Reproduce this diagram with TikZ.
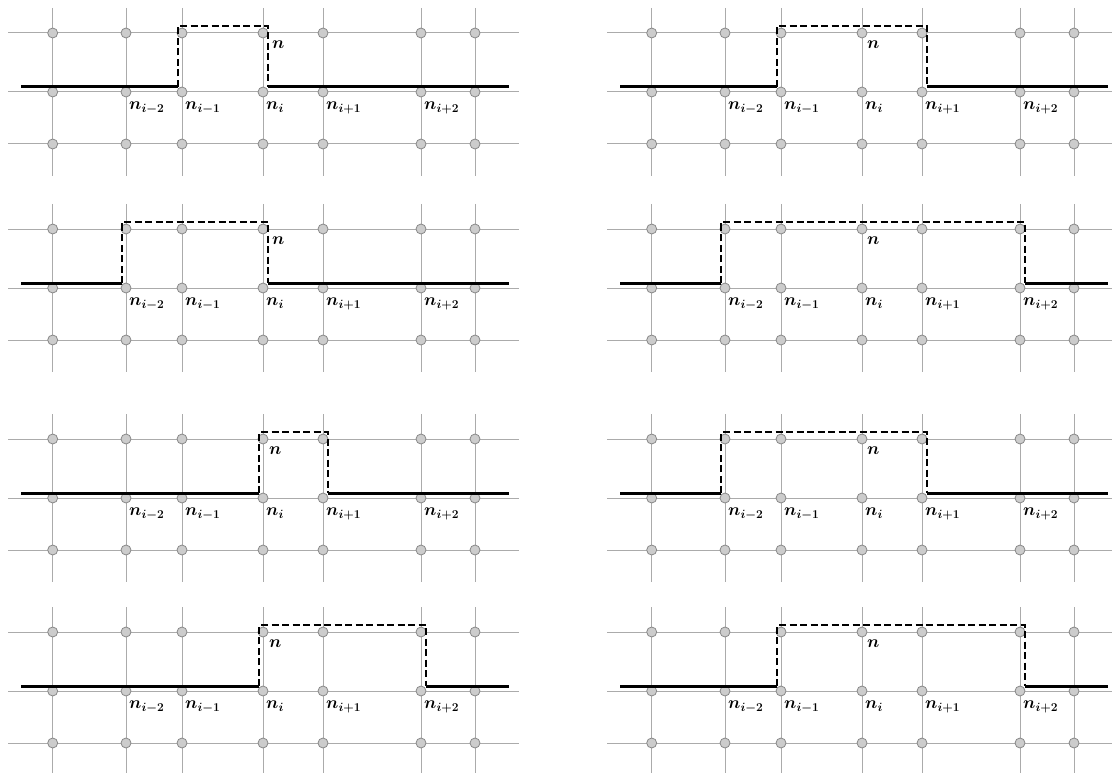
\documentclass[tikz,border=0pt]{standalone}
\definecolor{gridgray}{HTML}{ABABAB}
\definecolor{dotfill}{HTML}{CCCCCC}
\definecolor{dotdraw}{HTML}{888888}
% #1 panel name, #2 x offset, #3 y of top row, #4 left column of bump, #5 right column of bump, #6 shift of label n
\newcommand\drawpanel[6]{%
 \begin{scope}[shift={(#2,#3)}]
  \foreach \yy in {0,59,111} {\draw[gridline] (8,\yy) -- (519,\yy);}
  \foreach \c/\xx in {0/52.7,1/126,2/182,3/263,4/323,5/421,6/475} {
    \draw[gridline] (\xx,-25) -- (\xx,143);
  }
  \foreach \c/\xx in {0/52.7,1/126,2/182,3/263,4/323,5/421,6/475} {
    \foreach \r/\yy in {t/0,m/59,b/111} {\node[gridpt] (#1-\r\c) at (\xx,\yy) {};}
  }
  \coordinate (#1-L) at (21,54);
  \coordinate (#1-R) at (509,54);
  \node[lbl] (#1-l1) at ([shift={(3,10)}]#1-m1.center) {$n_{i-2}$};
  \node[lbl] (#1-l2) at ([shift={(3,10)}]#1-m2.center) {$n_{i-1}$};
  \node[lbl] (#1-l3) at ([shift={(3,10)}]#1-m3.center) {$n_{i}$};
  \node[lbl] (#1-l4) at ([shift={(3,10)}]#1-m4.center) {$n_{i+1}$};
  \node[lbl] (#1-l5) at ([shift={(3,10)}]#1-m5.center) {$n_{i+2}$};
  \node[lbl] (#1-n) at ([shift={(#6,8)}]#1-t3.center) {$n$};
  \draw[interface] (#1-L) -- ([shift={(-4,-5)}]#1-m#4.center);
  \draw[interface] ([shift={(5,-5)}]#1-m#5.center) -- (#1-R);
  \draw[bump] ([shift={(-4,-5)}]#1-m#4.center) -- ([shift={(-4,-7)}]#1-t#4.center)
     -- ([shift={(5,-7)}]#1-t#5.center) -- ([shift={(5,-5)}]#1-m#5.center);
 \end{scope}}
\begin{document}
\begin{tikzpicture}[x=1pt,y=-1pt,
 gridline/.style={draw=gridgray,line width=1pt},
 gridpt/.style={circle,draw=dotdraw,fill=dotfill,line width=0.8pt,minimum size=10pt,inner sep=0pt},
 interface/.style={line width=3pt,black},
 bump/.style={line width=2.6pt,black,dash pattern=on 7pt off 3.5pt},
 lbl/.style={anchor=north west,inner sep=0pt,font=\fontsize{18}{22}\selectfont\boldmath}
]
\useasboundingbox (0,0) rectangle (1112,773);
\clip (0,0) rectangle (1112,773);
\drawpanel{a}{0}{33}{2}{3}{9}
\drawpanel{b}{599}{33}{2}{4}{5}
\drawpanel{c}{0}{229}{1}{3}{9}
\drawpanel{d}{599}{229}{1}{5}{5}
\drawpanel{e}{0}{439}{3}{4}{6}
\drawpanel{f}{599}{439}{1}{4}{5}
\drawpanel{g}{0}{632}{3}{5}{6}
\drawpanel{h}{599}{632}{2}{5}{5}
\end{tikzpicture}
\end{document}
